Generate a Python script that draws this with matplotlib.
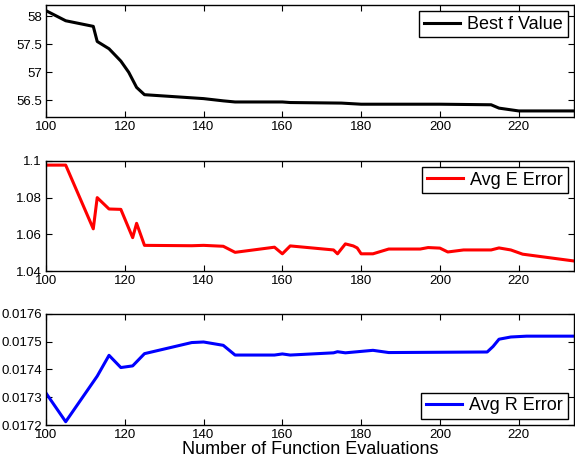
import matplotlib
matplotlib.use("Agg")
import matplotlib.pyplot as plt

plt.rcParams["font.family"] = ["Liberation Sans", "DejaVu Sans"]

# ── Data ──────────────────────────────────────────────────────────────────────
evals_f = [100, 105, 112, 113, 116, 119, 121, 123, 125, 140, 145, 148, 160,
           162, 175, 180, 200, 213, 215, 220, 234]
best_f = [58.10, 57.92, 57.82, 57.55, 57.42, 57.20, 57.00, 56.73, 56.60, 56.53,
          56.49, 56.47, 56.47, 56.46, 56.45, 56.43, 56.43, 56.42, 56.36, 56.31,
          56.31]

evals_e = [100, 105, 112, 113, 116, 119, 122, 123, 125, 137, 140, 145, 148,
           158, 160, 162, 173, 174, 176, 178, 179, 180, 183, 187, 195, 197,
           200, 202, 206, 213, 215, 218, 221, 234]
avg_e = [1.0977, 1.0977, 1.0630, 1.0800, 1.0738, 1.0736, 1.0582, 1.0660,
         1.0540, 1.0538, 1.0540, 1.0535, 1.0502, 1.0530, 1.0494, 1.0537,
         1.0515, 1.0494, 1.0548, 1.0537, 1.0526, 1.0494, 1.0494, 1.0520,
         1.0520, 1.0528, 1.0525, 1.0504, 1.0515, 1.0515, 1.0526, 1.0515,
         1.0492, 1.0455]

evals_r = [100, 105, 113, 116, 119, 122, 125, 137, 140, 145, 148, 158, 160,
           162, 173, 174, 176, 183, 187, 212, 213.5, 215, 218, 222, 234]
avg_r = [0.017315, 0.017212, 0.017376, 0.017451, 0.017407, 0.017413,
         0.017457, 0.017497, 0.017499, 0.017487, 0.017452, 0.017452,
         0.017456, 0.017452, 0.017460, 0.017464, 0.017460, 0.017469,
         0.017461, 0.017463, 0.017483, 0.017509, 0.017517, 0.017520,
         0.017520]

X_TICKS = [100, 120, 140, 160, 180, 200, 220]
XLIM = (100, 234)
# ──────────────────────────────────────────────────────────────────────────────

fig = plt.figure(figsize=(5.75, 4.61), dpi=100)

LEFT, WIDTH = 0.080, 0.918
panels = [
    dict(rect=[LEFT, 0.746, WIDTH, 0.243], x=evals_f, y=best_f, color="black",
         label="Best f Value", ylim=(56.2, 58.2),
         yticks=[56.5, 57, 57.5, 58], yfmt=["56.5", "57", "57.5", "58"],
         loc="upper right"),
    dict(rect=[LEFT, 0.412, WIDTH, 0.239], x=evals_e, y=avg_e, color="red",
         label="Avg E Error", ylim=(1.04, 1.1),
         yticks=[1.04, 1.06, 1.08, 1.1], yfmt=["1.04", "1.06", "1.08", "1.1"],
         loc="upper right"),
    dict(rect=[LEFT, 0.078, WIDTH, 0.241], x=evals_r, y=avg_r, color="blue",
         label="Avg R Error", ylim=(0.0172, 0.0176),
         yticks=[0.0172, 0.0173, 0.0174, 0.0175, 0.0176],
         yfmt=["0.0172", "0.0173", "0.0174", "0.0175", "0.0176"],
         loc="lower right"),
]

for p in panels:
    ax = fig.add_axes(p["rect"])
    ax.plot(p["x"], p["y"], color=p["color"], lw=2.2, label=p["label"])
    ax.set_xlim(*XLIM)
    ax.set_ylim(*p["ylim"])
    ax.set_xticks(X_TICKS)
    ax.set_yticks(p["yticks"])
    ax.set_yticklabels(p["yfmt"])
    ax.tick_params(direction="in", top=True, right=True, labelsize=9.5,
                   length=4, width=0.8, pad=3)
    for s in ax.spines.values():
        s.set_linewidth(1.0)
    leg = ax.legend(loc=p["loc"], fontsize=13, fancybox=False,
                    edgecolor="black", framealpha=1, handlelength=2.0,
                    borderpad=0.25, borderaxespad=0.35, handletextpad=0.4)
    leg.get_frame().set_linewidth(1.0)

ax.set_xlabel("Number of Function Evaluations", fontsize=13, labelpad=0)

fig.savefig("out.png", dpi=100)
